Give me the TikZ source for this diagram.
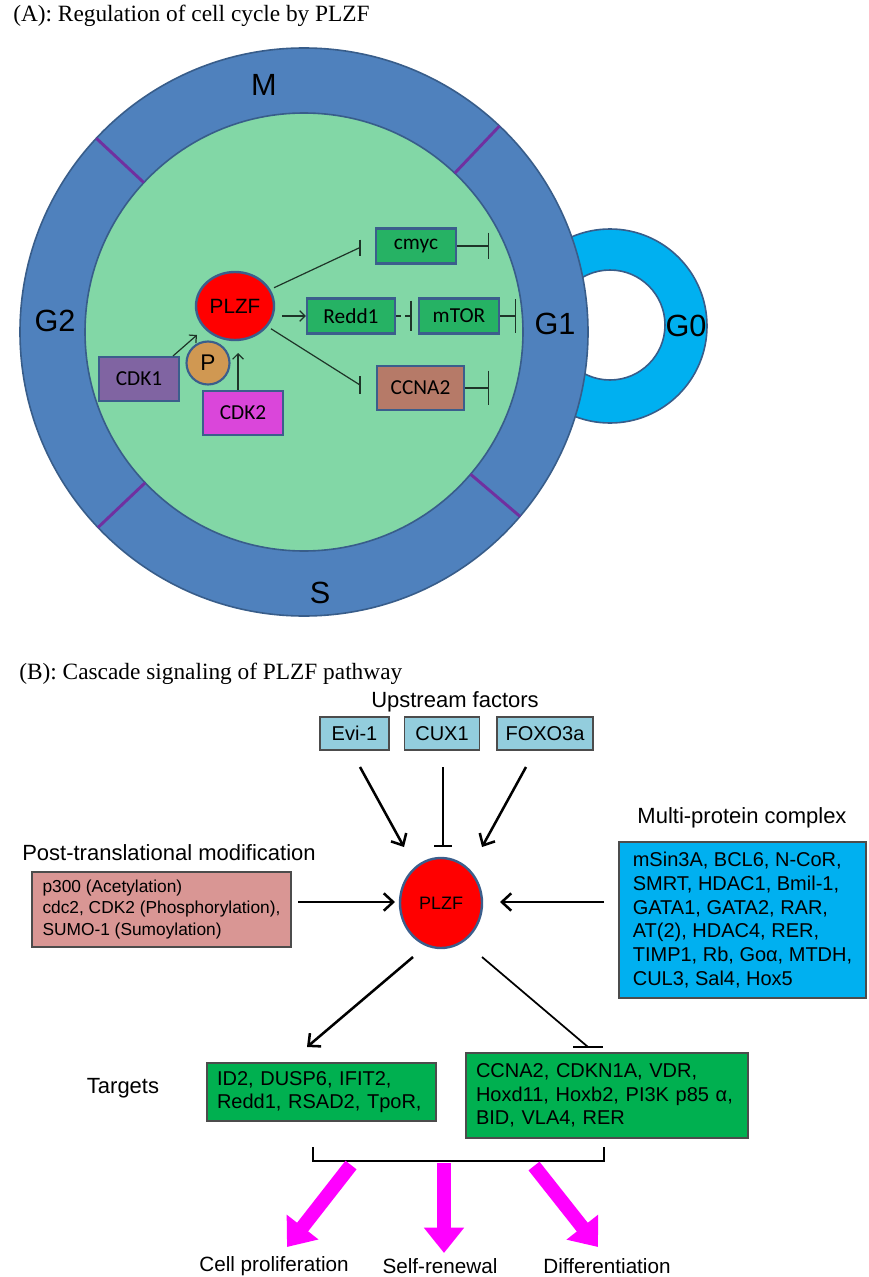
\documentclass[tikz,border=0pt]{standalone}
\usepackage{fontspec}
\setmainfont{Liberation Serif}
\setsansfont{Liberation Sans}
\newfontfamily\carlito{Carlito}
\usetikzlibrary{shapes.geometric,arrows.meta,calc}
\definecolor{cycleblue}{RGB}{79,129,189}
\definecolor{ringedge}{RGB}{56,93,138}
\definecolor{nucgreen}{RGB}{130,215,166}
\definecolor{gzero}{RGB}{0,176,240}
\definecolor{boxedge}{RGB}{59,94,140}
\definecolor{agreen}{RGB}{38,178,100}
\definecolor{ccnacol}{RGB}{182,122,104}
\definecolor{cdkone}{RGB}{128,100,162}
\definecolor{cdktwo}{RGB}{218,70,218}
\definecolor{pcol}{RGB}{208,152,82}
\definecolor{linecol}{RGB}{30,52,40}
\definecolor{dividercol}{RGB}{112,48,160}
\definecolor{upblue}{RGB}{147,205,221}
\definecolor{pinkbox}{RGB}{217,150,148}
\definecolor{cyanbox}{RGB}{0,176,240}
\definecolor{bgreen}{RGB}{0,176,80}
\definecolor{magarrow}{RGB}{255,0,255}
\def\pxu{0.75pt}
\tikzset{
  abox/.style={draw=boxedge, line width=1.6pt, inner sep=0pt, text=black, font=\carlito\fontsize{16}{18}\selectfont},
  ringlab/.style={font=\sffamily\fontsize{23}{26}\selectfont},
  thinarr/.style={draw=linecol, line width=0.9pt, -{Straight Barb[length=4pt,width=8pt]}},
  thinline/.style={draw=linecol, line width=0.9pt},
  divider/.style={draw=dividercol, line width=2.2pt},
  bbox/.style={draw=black!70, line width=0.9pt, inner sep=0pt, font=\sffamily\fontsize{15}{17.5}\selectfont},
  head/.style={font=\sffamily\fontsize{16.5}{19}\selectfont},
  barr/.style={draw=black, line width=1.9pt, -{Straight Barb[length=7pt,width=13pt]}},
  binh/.style={draw=black, line width=1.3pt, -{Bar[width=13pt]}},
  bline/.style={draw=black, line width=1.3pt},
  magarr/.style={draw=magarrow, line width=10.5pt, -{Triangle[length=19pt,width=29pt]}},
  ptitle/.style={font=\rmfamily\fontsize{17.5}{20}\selectfont, anchor=base west, inner sep=0pt},
  outcome/.style={font=\sffamily\fontsize{15.5}{17}\selectfont}
}
\begin{document}
\begin{tikzpicture}[x=0.75pt,y=-0.75pt]
\useasboundingbox[fill=white] (0,0) rectangle (868,1277);

% ---------------- Part A ----------------
\node[ptitle] (tA) at (13,22) {(A): Regulation of cell cycle by PLZF};

% G0 ring (behind)
\fill[gzero, even odd rule] (610,326) circle[radius=97] (610,325) circle[radius=55];
\draw[ringedge, line width=1.2pt] (610,326) circle[radius=97];
\draw[ringedge, line width=1.2pt] (610,325) circle[radius=55];

\coordinate (C) at (304,332);
\draw[fill=cycleblue, draw=ringedge, line width=1.2pt] (C) circle[radius=284];
\draw[fill=nucgreen, draw=ringedge, line width=1.2pt] (C) circle[radius=219];

\draw[divider] (143.8,182.6) -- (96.3,138.3);
\draw[divider] (454.8,173.1) -- (499.5,126);
\draw[divider] (145.1,482.8) -- (98,527.5);
\draw[divider] (470.5,474.2) -- (520,516.4);

\node[ringlab] (lM) at (264,85) {M};
\node[ringlab] (lS) at (320,593) {S};
\node[ringlab] (lG2) at (55,321) {G2};
\node[ringlab] (lG1) at (555,324) {G1};
\node[ringlab] (lG0) at (686,326) {G0};

\node[ellipse, fill=red, draw=boxedge, line width=1.8pt, minimum width=78*\pxu, minimum height=68*\pxu, inner sep=0pt, font=\sffamily\fontsize{15.5}{17}\selectfont] (plzfA) at (235,306) {PLZF};
\node[circle, fill=pcol, draw=boxedge, line width=1.6pt, minimum size=43*\pxu, inner sep=0pt, font=\sffamily\fontsize{17}{19}\selectfont] (P) at (208,363) {P};
\node[abox, fill=cdkone, minimum width=80*\pxu, minimum height=44*\pxu] (cdk1) at (139,379) {CDK1};
\node[abox, fill=cdktwo, minimum width=80*\pxu, minimum height=44*\pxu] (cdk2) at (243,413) {CDK2};
\node[abox, fill=agreen, minimum width=80*\pxu, minimum height=35*\pxu] (cmyc) at (416,246) {cmyc};
\node[abox, fill=agreen, minimum width=88*\pxu, minimum height=35*\pxu] (redd) at (351,316) {Redd1};
\node[abox, fill=agreen, minimum width=80*\pxu, minimum height=35*\pxu] (mtor) at (459,316) {mTOR};
\node[abox, fill=ccnacol, minimum width=87*\pxu, minimum height=44*\pxu] (ccna) at (420.5,388) {CCNA2};

\coordinate (cmycbar) at (360,247.5);
\coordinate (cmycend) at (489,246);
\coordinate (mtorbar) at (411.5,316);
\coordinate (mtorend) at (516,316);
\coordinate (ccnabar) at (360,385);
\coordinate (ccnaend) at (489,388);
\coordinate (cdkonetip) at (197,335);
\coordinate (cdktwotip) at (238,353);
\coordinate (reddstart) at (282,316);

\draw[thinline, shorten <=3pt] (plzfA) -- (cmycbar);
\draw[thinline] ($(cmycbar)+(0,-8)$) -- ($(cmycbar)+(0,8)$);
\draw[thinline, -{Bar[width=20pt]}] (cmyc.east) -- (cmycend);
\draw[thinarr] (reddstart) -- (redd.west);
\draw[thinline, dash pattern=on 4pt off 3pt, -{Bar[width=23pt]}] (redd.east) -- (mtorbar);
\draw[thinline, -{Bar[width=25pt]}] (mtor.east) -- (mtorend);
\draw[thinline, shorten <=3pt] (plzfA) -- (ccnabar);
\draw[thinline] ($(ccnabar)+(0,-9)$) -- ($(ccnabar)+(0,9)$);
\draw[thinline, -{Bar[width=26pt]}] (ccna.east) -- (ccnaend);
\draw[thinarr] ([xshift=-7*\pxu]cdk1.north east) -- (cdkonetip);
\draw[thinarr] ([xshift=-5*\pxu]cdk2.north) -- (cdktwotip);

% ---------------- Part B ----------------
\node[ptitle] (tB) at (19,679) {(B): Cascade signaling of PLZF pathway};
\node[head] (uplab) at (455,702) {Upstream factors};
\node[bbox, fill=upblue, minimum width=69*\pxu, minimum height=33*\pxu] (evi) at (354.5,733.5) {Evi-1};
\node[bbox, fill=upblue, minimum width=75*\pxu, minimum height=33*\pxu] (cux) at (442,733.5) {CUX1};
\node[bbox, fill=upblue, minimum width=96*\pxu, minimum height=33*\pxu] (foxo) at (545,733.5) {FOXO3a};

\node[ellipse, fill=red, draw=boxedge, line width=1.8pt, minimum width=82*\pxu, minimum height=90*\pxu, inner sep=0pt, font=\sffamily\fontsize{13.5}{15}\selectfont] (plzfB) at (441,903) {PLZF};

\node[head] (mplab) at (742,818) {Multi-protein complex};
\node[head] (ptmlab) at (169,853) {Post-translational modification};
\node[head] (tglab) at (123,1088) {Targets};

\node[bbox, fill=pinkbox, minimum width=259*\pxu, minimum height=75*\pxu, align=left, font=\sffamily\fontsize{13}{16.2}\selectfont] (ptm) at (161.5,909.5)
  {p300 (Acetylation)\\cdc2, CDK2 (Phosphorylation),\\SUMO-1 (Sumoylation)};
\node[bbox, fill=cyanbox, minimum width=247*\pxu, minimum height=156*\pxu, align=left, font=\sffamily\fontsize{15}{17.8}\selectfont] (mpc) at (742.5,920)
  {mSin3A, BCL6, N-CoR,\\SMRT, HDAC1, Bmil-1,\\GATA1, GATA2, RAR,\\AT(2), HDAC4, RER,\\TIMP1, Rb, Go\char"03B1, MTDH,\\CUL3, Sal4, Hox5};
\node[bbox, fill=bgreen, minimum height=58*\pxu, text width=(229-20)*\pxu, inner xsep=10*\pxu, align=left, font=\sffamily\fontsize{15}{17.5}\selectfont] (tgone) at (321.5,1092)
  {ID2, DUSP6, IFIT2,\\Redd1, RSAD2, TpoR,};
\node[bbox, fill=bgreen, minimum height=85*\pxu, text width=(282-20)*\pxu, inner xsep=10*\pxu, align=left, font=\sffamily\fontsize{15}{17.5}\selectfont] (tgtwo) at (607,1095.5)
  {CCNA2, CDKN1A, VDR,\\Hoxd11, Hoxb2, PI3K p85 \char"03B1,\\BID, VLA4, RER};

% upstream connectors
\coordinate (evis) at (360,767);
\coordinate (evit) at (404,847);
\coordinate (cuxs) at (443,767);
\coordinate (cuxt) at (443,847);
\coordinate (foxs) at (526,767);
\coordinate (foxt) at (482,847);
\draw[barr] (evis) -- (evit);
\draw[binh] (cuxs) -- (cuxt);
\draw[barr] (foxs) -- (foxt);

\coordinate (ptms) at (298,902);
\coordinate (ptmt) at (395,902);
\coordinate (mpcs) at (604,902);
\coordinate (mpct) at (500,902);
\draw[barr] (ptms) -- (ptmt);
\draw[barr] (mpcs) -- (mpct);

\coordinate (dls) at (413,957);
\coordinate (dlt) at (307,1047);
\coordinate (drs) at (482,957);
\coordinate (drt) at (588,1047);
\draw[barr] (dls) -- (dlt);
\draw[bline] (drs) -- (drt);
\draw[bline] ($(drt)+(-15,0)$) -- ($(drt)+(15,0)$);

% bracket
\coordinate (brl) at (313,1147);
\coordinate (brr) at (604,1147);
\draw[black, line width=1.9pt] (brl) -- (313,1161) -- (604,1161) -- (brr);

% outcomes
\node[outcome] (cp) at (274,1266) {Cell proliferation};
\node[outcome] (sr) at (440,1266) {Self-renewal};
\node[outcome] (df) at (607,1266) {Differentiation};
\coordinate (m1s) at (351,1165);
\coordinate (m1t) at (287,1247);
\coordinate (m2s) at (444,1163);
\coordinate (m2t) at (444,1253);
\coordinate (m3s) at (534,1166);
\coordinate (m3t) at (598,1247);
\draw[magarr] (m1s) -- (m1t);
\draw[magarr] (m2s) -- (m2t);
\draw[magarr] (m3s) -- (m3t);
\end{tikzpicture}
\end{document}
